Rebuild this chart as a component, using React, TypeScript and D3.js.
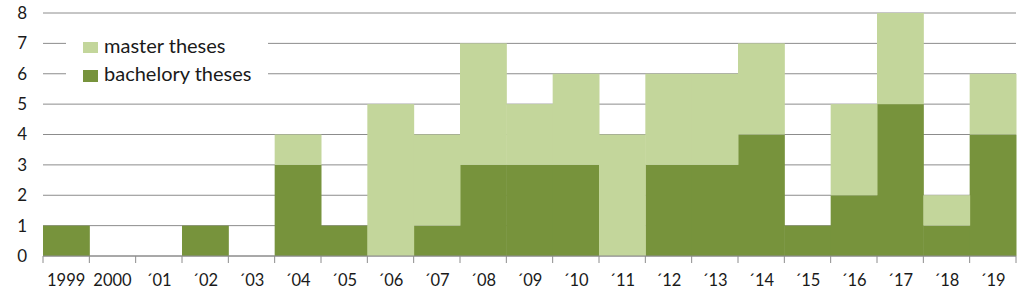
import React from "react";
import * as d3 from "d3";

const categories = ["1999", "2000", "´01", "´02", "´03", "´04", "´05", "´06", "´07", "´08", "´09", "´10", "´11", "´12", "´13", "´14", "´15", "´16", "´17", "´18", "´19"];
const bachelor = [1, 0, 0, 1, 0, 3, 1, 0, 1, 3, 3, 3, 0, 3, 3, 4, 1, 2, 5, 1, 4];
const master = [0, 0, 0, 0, 0, 1, 0, 5, 3, 4, 2, 3, 4, 3, 3, 3, 0, 3, 3, 1, 2];
const yTicks = [0, 1, 2, 3, 4, 5, 6, 7, 8];
const seriesNames = ["master theses", "bachelory theses"];

const DARK = "#77933C";
const LIGHT = "#C3D69B";
const GRID = "#8C8C8C";
const FONT = "Lato, 'Open Sans', sans-serif";

export default function App() {
  const W = 1024, H = 290;
  const left = 43, right = 1016, top = 13, bottom = 256;
  const x = d3.scaleBand<string>().domain(categories).range([left, right]).padding(0);
  const y = d3.scaleLinear().domain([0, 8]).range([bottom, top]);
  const rows = categories.map((c, i) => ({ c, b: bachelor[i], m: master[i] }));
  const stack = d3.stack<any>().keys(["b", "m"])(rows);
  const bw = x.bandwidth();

  return (
    <svg width={W} height={H} style={{ position: "absolute", left: 0, top: 0, background: "#fff" }}>
      <rect x={0} y={0} width={W} height={H} fill="#fff" />
      {yTicks.map(t => (
        <line key={"g" + t} x1={left} x2={right} y1={y(t)} y2={y(t)} stroke={GRID} strokeWidth={1} />
      ))}
      {stack.map((s, si) => (
        <g key={si} fill={si === 0 ? DARK : LIGHT}>
          {s.map((d, i) => d[1] - d[0] > 0 ? (
            <rect key={i} x={x(categories[i])!} y={y(d[1])} width={bw + 0.5} height={y(d[0]) - y(d[1])} />
          ) : null)}
        </g>
      ))}
      <line x1={left} x2={right} y1={bottom} y2={bottom} stroke={GRID} strokeWidth={1} />
      {categories.map((c, i) => (
        <line key={"t" + i} x1={x(c)!} x2={x(c)!} y1={bottom} y2={bottom + 7} stroke={GRID} />
      ))}
      <line x1={right} x2={right} y1={bottom} y2={bottom + 7} stroke={GRID} />
      {yTicks.map(t => (
        <text key={"yl" + t} x={27} y={y(t)} dy="0.35em" textAnchor="end" fontFamily={FONT} fontSize={17} fill="#1a1a1a">{t}</text>
      ))}
      {categories.map(c => (
        <text key={"xl" + c} x={x(c)! + bw / 2} y={286} textAnchor="middle" fontFamily={FONT} fontSize={16.5} fill="#1a1a1a">{c}</text>
      ))}
      <rect x={66} y={33} width={202} height={58} fill="#fff" />
      <rect x={83} y={42} width={15} height={11} fill={LIGHT} />
      <rect x={83} y={70} width={15} height={12} fill={DARK} />
      <text x={104} y={53} fontFamily={FONT} fontSize={20} fill="#1a1a1a">{seriesNames[0]}</text>
      <text x={104} y={81} fontFamily={FONT} fontSize={20} fill="#1a1a1a">{seriesNames[1]}</text>
    </svg>
  );
}
